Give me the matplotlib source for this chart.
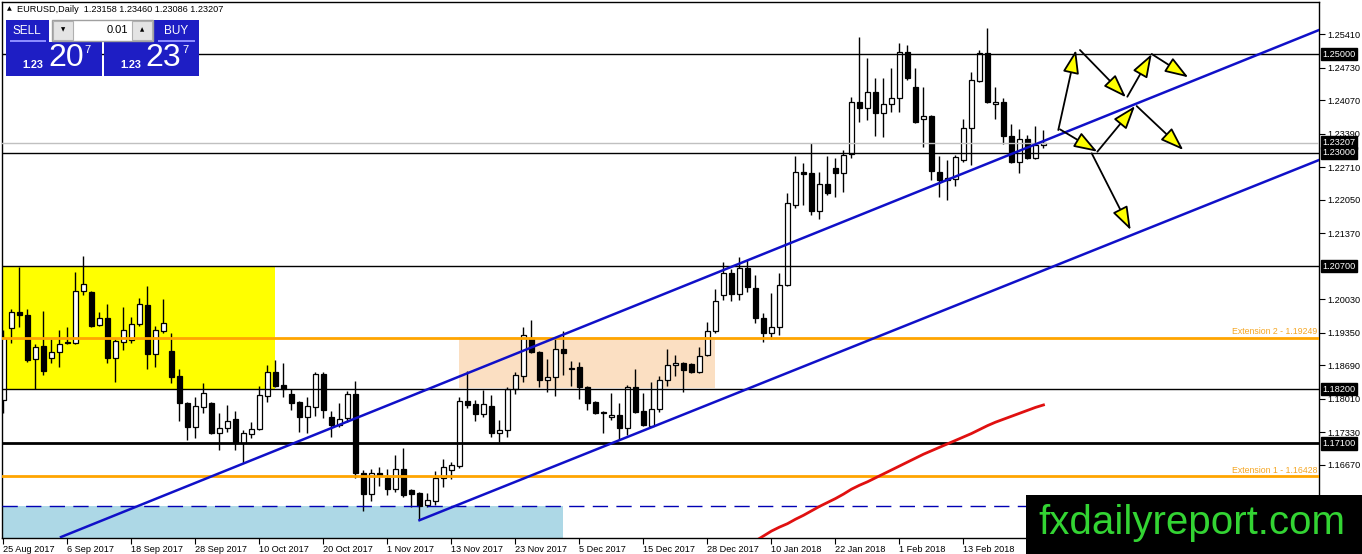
import matplotlib
matplotlib.use("Agg")
import matplotlib.pyplot as plt
from matplotlib.patches import Rectangle
import pandas as pd

plt.rcParams['font.family'] = ['Liberation Sans', 'DejaVu Sans']

# EURUSD daily bars, 25 Aug 2017 onwards (no Sunday bars, no Xmas / New Year)
start_date = "2017-08-25"
holidays = ["2017-12-25", "2018-01-01"]

opens = [1.1798, 1.1944, 1.1977, 1.1971, 1.1881, 1.1908, 1.1883, 1.1895, 1.1916, 1.1914,
         1.2019, 1.2017, 1.1950, 1.1965, 1.1883, 1.1916, 1.1920, 1.1952, 1.1991, 1.1891,
         1.1938, 1.1897, 1.1847, 1.1792, 1.1743, 1.1784, 1.1792, 1.1731, 1.1741, 1.1759,
         1.1711, 1.1729, 1.1739, 1.1806, 1.1855, 1.1828, 1.1810, 1.1794, 1.1763, 1.1784,
         1.1851, 1.1763, 1.1747, 1.1761, 1.1810, 1.1650, 1.1607, 1.1650, 1.1640, 1.1617,
         1.1658, 1.1615, 1.1609, 1.1585, 1.1593, 1.1640, 1.1656, 1.1664, 1.1796, 1.1790,
         1.1770, 1.1786, 1.1731, 1.1737, 1.1820, 1.1847, 1.1924, 1.1895, 1.1839, 1.1845,
         1.1902, 1.1863, 1.1865, 1.1824, 1.1794, 1.1774, 1.1763, 1.1768, 1.1741, 1.1824,
         1.1776, 1.1745, 1.1780, 1.1839, 1.1869, 1.1873, 1.1871, 1.1855, 1.1889, 1.1938,
         1.2011, 1.2056, 1.2013, 1.2066, 1.2025, 1.1965, 1.1934, 1.1946, 1.2031, 1.2194,
         1.2261, 1.2259, 1.2182, 1.2236, 1.2269, 1.2259, 1.2297, 1.2403, 1.2391, 1.2423,
         1.2381, 1.2399, 1.2411, 1.2504, 1.2433, 1.2368, 1.2374, 1.2261, 1.2245, 1.2247,
         1.2285, 1.2350, 1.2446, 1.2502, 1.2399, 1.2403, 1.2334, 1.2281, 1.2328, 1.2289,
         1.23158]
highs = [1.1940, 1.1983, 1.2068, 1.1983, 1.1912, 1.1979, 1.1922, 1.1940, 1.1946, 1.2058,
         1.2090, 1.2019, 1.1977, 1.1993, 1.1922, 1.1987, 1.1966, 1.2005, 1.2029, 1.1948,
         1.2003, 1.1934, 1.1861, 1.1794, 1.1804, 1.1833, 1.1794, 1.1772, 1.1788, 1.1776,
         1.1737, 1.1753, 1.1826, 1.1869, 1.1879, 1.1873, 1.1820, 1.1796, 1.1804, 1.1855,
         1.1855, 1.1776, 1.1792, 1.1816, 1.1837, 1.1656, 1.1658, 1.1662, 1.1658, 1.1686,
         1.1701, 1.1617, 1.1611, 1.1609, 1.1654, 1.1678, 1.1672, 1.1804, 1.1857, 1.1798,
         1.1818, 1.1808, 1.1757, 1.1824, 1.1855, 1.1946, 1.1960, 1.1897, 1.1881, 1.1926,
         1.1938, 1.1877, 1.1875, 1.1826, 1.1796, 1.1776, 1.1812, 1.1792, 1.1828, 1.1861,
         1.1812, 1.1835, 1.1847, 1.1902, 1.1889, 1.1875, 1.1873, 1.1906, 1.1956, 1.2023,
         1.2078, 1.2064, 1.2088, 1.2082, 1.2052, 1.1975, 1.2015, 1.2056, 1.2218, 1.2293,
         1.2279, 1.2320, 1.2261, 1.2293, 1.2289, 1.2306, 1.2413, 1.2535, 1.2492, 1.2452,
         1.2452, 1.2472, 1.2523, 1.2519, 1.2472, 1.2433, 1.2377, 1.2293, 1.2285, 1.2295,
         1.2368, 1.2464, 1.2508, 1.2553, 1.2433, 1.2411, 1.2358, 1.2348, 1.2336, 1.2354,
         1.23460]
lows = [1.1772, 1.1914, 1.1946, 1.1875, 1.1820, 1.1849, 1.1873, 1.1865, 1.1912, 1.1912,
        1.2011, 1.1946, 1.1948, 1.1873, 1.1835, 1.1900, 1.1914, 1.1948, 1.1861, 1.1865,
        1.1934, 1.1833, 1.1755, 1.1717, 1.1721, 1.1772, 1.1729, 1.1697, 1.1733, 1.1697,
        1.1670, 1.1721, 1.1737, 1.1794, 1.1824, 1.1804, 1.1778, 1.1733, 1.1731, 1.1766,
        1.1761, 1.1723, 1.1743, 1.1753, 1.1640, 1.1573, 1.1593, 1.1623, 1.1605, 1.1611,
        1.1601, 1.1581, 1.1554, 1.1581, 1.1585, 1.1621, 1.1638, 1.1660, 1.1782, 1.1755,
        1.1763, 1.1723, 1.1713, 1.1723, 1.1810, 1.1835, 1.1893, 1.1824, 1.1814, 1.1806,
        1.1849, 1.1826, 1.1800, 1.1778, 1.1770, 1.1731, 1.1757, 1.1717, 1.1727, 1.1772,
        1.1745, 1.1743, 1.1774, 1.1826, 1.1847, 1.1814, 1.1853, 1.1853, 1.1887, 1.1934,
        1.2001, 1.1999, 1.2001, 1.2017, 1.1954, 1.1916, 1.1922, 1.1930, 1.2029, 1.2188,
        1.2194, 1.2174, 1.2166, 1.2214, 1.2210, 1.2220, 1.2289, 1.2362, 1.2366, 1.2334,
        1.2332, 1.2383, 1.2383, 1.2448, 1.2360, 1.2312, 1.2245, 1.2210, 1.2204, 1.2232,
        1.2281, 1.2275, 1.2444, 1.2401, 1.2368, 1.2318, 1.2279, 1.2259, 1.2287, 1.2287,
        1.23086]
closes = [1.1924, 1.1977, 1.1971, 1.1879, 1.1906, 1.1857, 1.1895, 1.1912, 1.1914, 1.2019,
          1.2034, 1.1948, 1.1965, 1.1883, 1.1918, 1.1940, 1.1952, 1.1993, 1.1891, 1.1940,
          1.1954, 1.1845, 1.1792, 1.1743, 1.1786, 1.1812, 1.1731, 1.1741, 1.1755, 1.1711,
          1.1731, 1.1739, 1.1808, 1.1855, 1.1826, 1.1820, 1.1792, 1.1763, 1.1786, 1.1851,
          1.1778, 1.1747, 1.1759, 1.1810, 1.1650, 1.1607, 1.1650, 1.1646, 1.1617, 1.1658,
          1.1605, 1.1607, 1.1583, 1.1595, 1.1640, 1.1662, 1.1666, 1.1796, 1.1788, 1.1770,
          1.1790, 1.1731, 1.1737, 1.1820, 1.1849, 1.1930, 1.1895, 1.1839, 1.1845, 1.1902,
          1.1893, 1.1861, 1.1824, 1.1792, 1.1772, 1.1772, 1.1768, 1.1741, 1.1824, 1.1774,
          1.1747, 1.1780, 1.1839, 1.1869, 1.1873, 1.1859, 1.1855, 1.1887, 1.1938, 1.1999,
          1.2056, 1.2013, 1.2066, 1.2027, 1.1965, 1.1934, 1.1946, 1.2031, 1.2198, 1.2261,
          1.2257, 1.2182, 1.2236, 1.2218, 1.2259, 1.2295, 1.2403, 1.2391, 1.2423, 1.2381,
          1.2399, 1.2411, 1.2504, 1.2452, 1.2362, 1.2374, 1.2263, 1.2245, 1.2249, 1.2291,
          1.2350, 1.2448, 1.2502, 1.2403, 1.2403, 1.2334, 1.2281, 1.2328, 1.2289, 1.2316,
          1.23207]

# red moving average, visible part only (from bar 94)
ma_first_bar = 94
ma_values = [1.1512, 1.1522, 1.1532, 1.1540, 1.1547, 1.1556, 1.1564, 1.1573, 1.1582, 1.1590,
             1.1598, 1.1607, 1.1617, 1.1625, 1.1632, 1.1640, 1.1648, 1.1656, 1.1664, 1.1672,
             1.1680, 1.1688, 1.1695, 1.1702, 1.1709, 1.1716, 1.1723, 1.1730, 1.1738, 1.1746,
             1.1753, 1.1759, 1.1765, 1.1771, 1.1777, 1.1783, 1.1788]

black_levels = [1.25000, 1.23000, 1.20700, 1.18200]
thick_level = 1.17100
bid_price = 1.23207
ext_levels = [1.19249, 1.16428]
ext_labels = ["Extension 2 - 1.19249", "Extension 1 - 1.16428"]
dash_level = 1.1583
box_labels = [1.25000, 1.23207, 1.23000, 1.20700, 1.18200, 1.17100]
price_ticks = [1.25410, 1.24730, 1.24070, 1.23390, 1.22710, 1.22050, 1.21370, 1.20030,
               1.19350, 1.18690, 1.18010, 1.17330, 1.16670, 1.15990]

# zones: (first bar, last bar, low, high)
yellow_zone = (-1, 34, 1.1818, 1.2070)
peach_zone = (57, 89, 1.1822, 1.1925)
blue_zone = (-1, 70, 1.1400, dash_level)

# channel lines: ((bar, price), (bar, price))
upper_channel = ((7.19, 1.15199), (164.44, 1.25491))
lower_channel = ((52, 1.1554), (164.44, 1.22852))

# scenario arrows drawn to the right of the last bar
arrows = [((131.85, 1.23461), (134.06, 1.25085)),
          ((134.56, 1.25085), (140.31, 1.24125)),
          ((140.48, 1.24137), (143.53, 1.25004)),
          ((143.53, 1.25004), (148.10, 1.24531)),
          ((132.06, 1.23475), (136.73, 1.23021)),
          ((136.73, 1.23021), (141.44, 1.23948)),
          ((141.65, 1.23948), (147.48, 1.23055)),
          ((136.03, 1.22988), (140.90, 1.21431))]

W, H = 1362, 554
fig = plt.figure(figsize=(W / 100, H / 100), dpi=100)
fig.patch.set_facecolor("white")
ax = fig.add_axes([2 / W, 16 / H, 1317 / W, 536 / H])

n = len(closes)
xs = list(range(n))
dates = pd.bdate_range(start=start_date, periods=n, freq="C", holidays=holidays)

# zones
for (b0, b1, lo, hi), col in [(yellow_zone, "#ffff00"), (peach_zone, "#fbdfc2"),
                              (blue_zone, "#add8e6")]:
    ax.add_patch(Rectangle((b0, lo), b1 - b0, hi - lo, facecolor=col, edgecolor="none", zorder=0.5))

# candles
ax.vlines(xs, lows, highs, color="black", lw=1, zorder=2)
bottoms = [min(o, c) for o, c in zip(opens, closes)]
heights = [abs(c - o) for o, c in zip(opens, closes)]
colors = ["white" if c >= o else "black" for o, c in zip(opens, closes)]
ax.bar(xs, heights, bottom=bottoms, width=0.62, color=colors, edgecolor="black",
       linewidth=0.9, zorder=2.1)

# horizontal levels
for lv in black_levels:
    ax.axhline(lv, color="black", lw=1, zorder=3)
ax.axhline(thick_level, color="black", lw=2, zorder=3)
ax.axhline(bid_price, color="#c0c0c0", lw=1, zorder=3)
for lv, lab in zip(ext_levels, ext_labels):
    ax.axhline(lv, color="#ffa500", lw=2, zorder=3)
    ax.text(0.999, lv + 0.0003, lab, transform=ax.get_yaxis_transform(), ha="right",
            va="bottom", color="#f5a623", fontsize=6.3, zorder=3)
ax.axhline(dash_level, color="#0000b4", lw=1, dashes=(11, 6), zorder=3)

# moving average
ma_x = list(range(ma_first_bar, ma_first_bar + len(ma_values)))
ax.plot(ma_x, ma_values, color="#e01010", lw=2, zorder=3)

# channel
for (x0, y0), (x1, y1) in [upper_channel, lower_channel]:
    ax.plot([x0, x1], [y0, y1], color="#1010c8", lw=1.8, zorder=3.2)

for (x0, y0), (x1, y1) in arrows:
    ax.annotate("", xy=(x1, y1), xytext=(x0, y0),
                arrowprops=dict(arrowstyle="-|>,head_length=1.2,head_width=0.42",
                                mutation_scale=12, fc="#ffff00", ec="black", lw=1.3,
                                shrinkA=0, shrinkB=0), zorder=4)

ax.set_xlim(-0.1875, 164.44)
ax.set_ylim(1.15179, 1.2606)

ax.yaxis.tick_right()
ax.set_yticks(price_ticks)
ax.set_yticklabels([f"{p:.5f}" for p in price_ticks])
ax.tick_params(axis="y", direction="out", length=4, pad=2, labelsize=6.6)

tick_bars = list(range(0, n, 8))
ax.set_xticks(tick_bars)
ax.set_xticklabels([f"{dates[i].day} {dates[i]:%b %Y}" for i in tick_bars])
ax.tick_params(axis="x", direction="out", length=4, pad=1, labelsize=6.6)
for lab in ax.get_xticklabels():
    lab.set_horizontalalignment("left")

for sp in ax.spines.values():
    sp.set_color("black")
    sp.set_linewidth(1)

for lv in box_labels:
    ax.text(1.0025, lv, f"{lv:.5f}", transform=ax.get_yaxis_transform(), ha="left",
            va="center", color="white", fontsize=6.6, zorder=5, clip_on=False,
            bbox=dict(boxstyle="square,pad=0.18", fc="black", ec="black"))


# --- terminal decorations, in pixel positions ---
def fig_box(x0, y0, x1, y1, **kw):
    fig.add_artist(Rectangle((x0 / W, 1 - y1 / H), (x1 - x0) / W, (y1 - y0) / H,
                             transform=fig.transFigure, **kw))


def fig_text(x, y, s, **kw):
    fig.text(x / W, 1 - y / H, s, **kw)


fig_text(7, 9, "▲", fontsize=4.5, va="center", ha="left", color="black",
         family=["DejaVu Sans"])
fig_text(17, 9, "EURUSD,Daily  1.23158 1.23460 1.23086 1.23207", fontsize=6.6,
         va="center", ha="left", color="black")

blue = "#1e1ec4"
fig_box(6, 20, 49, 42, fc=blue, ec="none", zorder=5)
fig_box(6, 42, 102, 76, fc=blue, ec="none", zorder=5)
fig_box(154, 20, 199, 42, fc=blue, ec="none", zorder=5)
fig_box(104, 42, 199, 76, fc=blue, ec="none", zorder=5)
fig_box(52, 20, 153, 41, fc="white", ec="#a0a0a0", lw=1, zorder=5)
fig_box(53, 21, 73, 40, fc="#e4e4e4", ec="#b0b0b0", lw=0.8, zorder=5.1)
fig_box(132, 21, 152, 40, fc="#e4e4e4", ec="#b0b0b0", lw=0.8, zorder=5.1)
fig_box(10, 40.5, 46, 41.5, fc="#8c8cff", ec="none", zorder=5.1)
fig_box(158, 40.5, 195, 41.5, fc="#8c8cff", ec="none", zorder=5.1)

fig_text(27, 31, "SELL", fontsize=8.5, color="white", ha="center", va="center", zorder=6)
fig_text(176, 31, "BUY", fontsize=8.5, color="white", ha="center", va="center", zorder=6)
fig_text(63, 30, "▼", fontsize=4, color="black", ha="center", va="center", zorder=6,
         family=["DejaVu Sans"])
fig_text(142, 30, "▲", fontsize=4, color="black", ha="center", va="center", zorder=6,
         family=["DejaVu Sans"])
fig_text(128, 30, "0.01", fontsize=8, color="black", ha="right", va="center", zorder=6)

for small_x, big_x, sup_x, big in [(32.5, 66, 87.5, "20"), (130.5, 163, 185, "23")]:
    fig_text(small_x, 65, "1.23", fontsize=7.8, fontweight="bold", color="white",
             ha="center", va="center", zorder=6)
    fig_text(big_x, 58, big, fontsize=23, color="white", ha="center", va="center", zorder=6)
    fig_text(sup_x, 50, "7", fontsize=8, color="white", ha="center", va="center", zorder=6)

fig_box(1026, 495, 1362, 554, fc="black", ec="none", zorder=10)
fig_text(1192, 534, "fxdailyreport.com", fontsize=29, color="#33d433", ha="center",
         va="baseline", zorder=11)

fig.savefig("out.png", dpi=100)
